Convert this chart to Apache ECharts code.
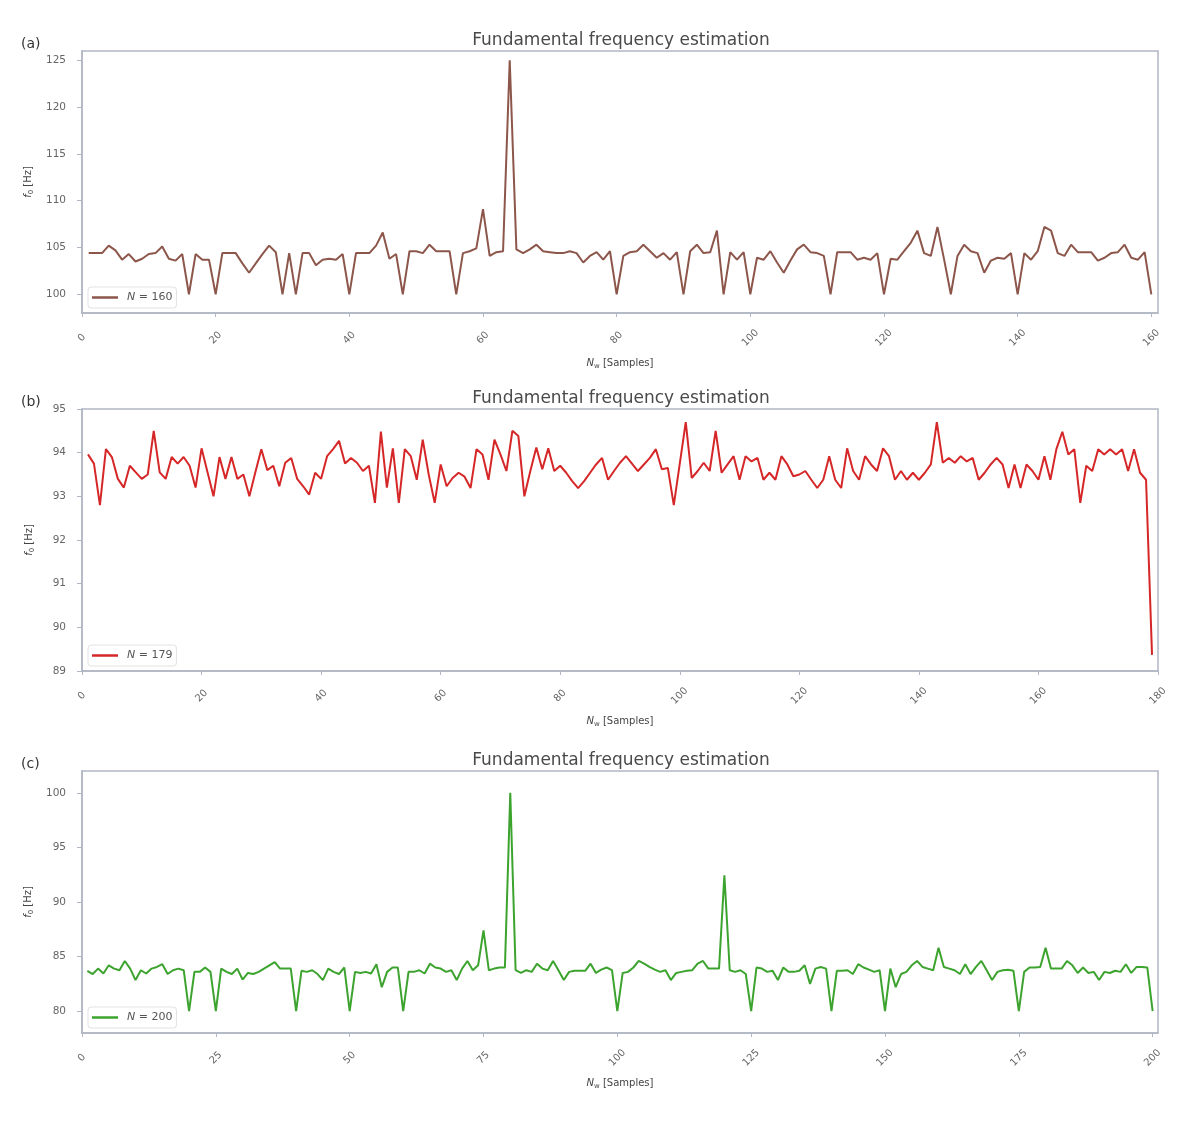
<!DOCTYPE html>
<html>
<head>
<meta charset="utf-8">
<script src="https://cdn.jsdelivr.net/npm/echarts@6/dist/echarts.min.js"></script>
<style>html,body{margin:0;padding:0;background:#fff}#c{width:1200px;height:1122px}</style>
</head>
<body>
<div id="c"></div>
<script>
// ---- data ----
const seriesA = [104.4,104.4,104.4,105.2,104.7,103.7,104.3,103.5,103.8,104.3,
104.4,105.1,103.8,103.6,104.3,100,104.3,103.7,103.7,100,
104.4,104.4,104.4,103.3,102.3,103.3,104.3,105.2,104.5,100,
104.4,100,104.4,104.4,103.1,103.7,103.8,103.7,104.3,100,
104.4,104.4,104.4,105.2,106.6,103.8,104.3,100,104.6,104.6,
104.4,105.3,104.6,104.6,104.6,100,104.4,104.6,104.9,109.1,
104.1,104.5,104.6,125,104.8,104.4,104.8,105.3,104.6,104.5,
104.4,104.4,104.6,104.4,103.4,104.1,104.5,103.7,104.6,100,
104.1,104.5,104.6,105.3,104.6,103.9,104.4,103.7,104.5,100,
104.6,105.3,104.4,104.5,106.8,100,104.5,103.7,104.5,100,
103.9,103.7,104.6,103.4,102.3,103.6,104.8,105.3,104.5,104.4,
104.1,100,104.5,104.5,104.5,103.7,103.9,103.7,104.4,100,
103.8,103.7,104.6,105.5,106.8,104.4,104.1,107.2,103.7,100,
104.1,105.3,104.6,104.4,102.3,103.6,103.9,103.8,104.4,100,
104.4,103.7,104.6,107.2,106.8,104.4,104.1,105.3,104.5,104.5,
104.5,103.6,103.9,104.4,104.5,105.3,103.9,103.7,104.5,100];

const seriesB = [93.96,93.75,92.8,94.08,93.9,93.4,93.2,93.7,93.55,93.4,
93.5,94.5,93.55,93.4,93.9,93.75,93.9,93.7,93.2,94.1,
93.55,93.0,93.9,93.4,93.9,93.4,93.5,93.0,93.55,94.08,
93.6,93.7,93.23,93.77,93.88,93.4,93.23,93.04,93.54,93.4,
93.92,94.08,94.27,93.75,93.88,93.77,93.58,93.7,92.85,94.48,
93.2,94.1,92.85,94.08,93.92,93.38,94.3,93.5,92.85,93.73,
93.23,93.42,93.54,93.45,93.19,94.08,93.96,93.38,94.3,93.96,
93.58,94.5,94.38,93.0,93.58,94.12,93.62,94.1,93.58,93.7,
93.54,93.35,93.19,93.35,93.54,93.73,93.88,93.38,93.58,93.77,
93.92,93.75,93.58,93.73,93.88,94.08,93.62,93.65,92.8,93.75,
94.7,93.42,93.58,93.77,93.58,94.5,93.54,93.73,93.92,93.38,
93.92,93.8,93.88,93.38,93.54,93.38,93.92,93.73,93.46,93.5,
93.58,93.38,93.19,93.38,93.92,93.38,93.19,94.1,93.58,93.38,
93.92,93.73,93.58,94.1,93.92,93.38,93.58,93.38,93.54,93.38,
93.54,93.73,94.7,93.77,93.88,93.77,93.92,93.8,93.88,93.38,
93.54,93.73,93.88,93.73,93.19,93.73,93.19,93.73,93.58,93.38,
93.92,93.38,94.08,94.48,93.96,94.08,92.85,93.7,93.58,94.08,
93.96,94.08,93.96,94.08,93.58,94.08,93.54,93.38,89.37];

const seriesC = [83.7,83.4,83.9,83.45,84.2,83.9,83.75,84.6,83.9,82.85,
83.75,83.45,83.9,84.05,84.3,83.4,83.75,83.9,83.75,80,
83.6,83.6,84.0,83.6,80,83.9,83.6,83.4,83.9,82.9,
83.5,83.4,83.6,83.9,84.2,84.5,83.9,83.9,83.9,80,
83.7,83.6,83.75,83.4,82.85,83.9,83.6,83.4,84.0,80,
83.6,83.5,83.6,83.45,84.3,82.2,83.6,84.0,84.0,80,
83.6,83.6,83.75,83.45,84.35,84.0,83.9,83.6,83.75,82.85,
83.9,84.6,83.75,84.2,87.4,83.75,83.9,84.0,84.0,100,
83.75,83.5,83.75,83.6,84.35,83.9,83.75,84.6,83.75,82.85,
83.6,83.7,83.7,83.7,84.35,83.5,83.8,84.0,83.75,80,
83.5,83.6,84.0,84.6,84.35,84.05,83.8,83.6,83.75,82.85,
83.5,83.6,83.7,83.75,84.35,84.6,83.9,83.9,83.9,92.45,
83.75,83.6,83.75,83.4,80,84.0,83.9,83.6,83.7,82.85,
84.0,83.6,83.6,83.7,84.2,82.5,83.9,84.05,83.9,80,
83.7,83.7,83.75,83.4,84.3,84.0,83.8,83.6,83.75,80,
83.9,82.2,83.4,83.6,84.2,84.6,84.05,83.9,83.75,85.8,
84.05,83.9,83.75,83.4,84.3,83.4,84.05,84.6,83.75,82.85,
83.6,83.75,83.8,83.7,80,83.6,84.0,84.0,84.05,85.8,
83.9,83.9,83.9,84.6,84.2,83.5,84.0,83.5,83.6,82.85,
83.6,83.5,83.7,83.6,84.3,83.5,84.05,84.05,84.0,80];

const seriesNames = ['N = 160', 'N = 179', 'N = 200'];
const panelLabels = ['(a)', '(b)', '(c)'];
const titleText = 'Fundamental frequency estimation';
const xTicksA = [0,20,40,60,80,100,120,140,160];
const xTicksB = [0,20,40,60,80,100,120,140,160,180];
const xTicksC = [0,25,50,75,100,125,150,175,200];
const yTicksA = [100,105,110,115,120,125];
const yTicksB = [89,90,91,92,93,94,95];
const yTicksC = [80,85,90,95,100];

// ---- layout ----
const colors = ['#8c564b', '#d62728', '#3da32f'];
const tops = [51, 409, 771];
const gridH = 262;
const xMax = [161, 180, 201];
const yRange = [[98,126],[89,95],[78,102]];
const datasets = [seriesA, seriesB, seriesC];
const xTicks = [xTicksA, xTicksB, xTicksC];
const yTicks = [yTicksA, yTicksB, yTicksC];
const FONT = 'DejaVu Sans';
const spine = '#b0b6c3';
const tickTxt = '#666';

const grids = [], xAxes = [], yAxes = [], series = [], titles = [], legends = [], graphics = [];
for (let k = 0; k < 3; k++) {
  grids.push({left: 82, width: 1076, top: tops[k], height: gridH, show: true,
    borderColor: spine, borderWidth: 1.5, backgroundColor: '#fff', containLabel: false});
  xAxes.push({type: 'value', gridIndex: k, min: 0, max: xMax[k],
    name: '{i|N}{s|w} [Samples]', nameLocation: 'middle', nameGap: 44,
    nameTextStyle: {fontFamily: FONT, fontSize: 10, color: '#444',
      rich: {i: {fontStyle: 'italic', fontSize: 10, fontFamily: FONT, color: '#444'},
             s: {fontSize: 7, fontFamily: FONT, color: '#444', verticalAlign: 'bottom', padding: [6,0,0,0]}}},
    axisLine: {show: true, lineStyle: {color: spine, width: 1.5}},
    axisTick: {show: true, length: 4, lineStyle: {color: spine}, customValues: xTicks[k]},
    axisLabel: {customValues: xTicks[k], rotate: 45, fontFamily: FONT, fontSize: 10, color: tickTxt,
      margin: 25, align: 'center', verticalAlign: 'middle'},
    splitLine: {show: false}});
  yAxes.push({type: 'value', gridIndex: k, min: yRange[k][0], max: yRange[k][1],
    name: '{i|f}{s|0} [Hz]', nameLocation: 'middle', nameGap: 46,
    nameTextStyle: {fontFamily: FONT, fontSize: 10, color: '#444',
      rich: {i: {fontStyle: 'italic', fontSize: 10, fontFamily: FONT, color: '#444'},
             s: {fontSize: 7, fontFamily: FONT, color: '#444', verticalAlign: 'bottom', padding: [6,0,0,0]}}},
    axisLine: {show: true, lineStyle: {color: spine, width: 1.5}},
    axisTick: {show: true, length: 5, lineStyle: {color: spine}, customValues: yTicks[k]},
    axisLabel: {customValues: yTicks[k], fontFamily: FONT, fontSize: 10.5, color: tickTxt, margin: 16},
    splitLine: {show: false}});
  series.push({type: 'line', name: seriesNames[k], xAxisIndex: k, yAxisIndex: k,
    data: datasets[k].map((v, i) => [i + 1, v]), showSymbol: false, symbol: 'none',
    lineStyle: {color: colors[k], width: 2}, itemStyle: {color: colors[k]}, animation: false});
  titles.push({text: titleText, left: 616, top: tops[k] - 24, textAlign: 'center',
    textStyle: {fontFamily: FONT, fontSize: 17, fontWeight: 'normal', color: '#4a4a4a'}});
  legends.push({data: [seriesNames[k]], left: 88, top: tops[k] + 236, orient: 'vertical',
    icon: 'rect', itemWidth: 26, itemHeight: 2.5, itemGap: 4,
    backgroundColor: '#fff', borderColor: '#e2e2e2', borderWidth: 1, borderRadius: 3, padding: [5, 4, 5, 4],
    formatter: n => '{i|N} = ' + n.split('= ')[1],
    textStyle: {fontFamily: FONT, fontSize: 11, color: '#555', padding: [0, 0, 0, 4],
      rich: {i: {fontStyle: 'italic', fontFamily: FONT, fontSize: 11, color: '#555'}}}});
  graphics.push({type: 'text', left: 21, top: tops[k] - 14,
    style: {text: panelLabels[k], font: '14px "DejaVu Sans"', fill: '#333'}});
}

const chart = echarts.init(document.getElementById('c'), null, {renderer: 'canvas'});
chart.setOption({
  animation: false,
  backgroundColor: '#fff',
  title: titles,
  legend: legends,
  grid: grids,
  xAxis: xAxes,
  yAxis: yAxes,
  series: series,
  graphic: graphics
});
</script>
</body>
</html>
